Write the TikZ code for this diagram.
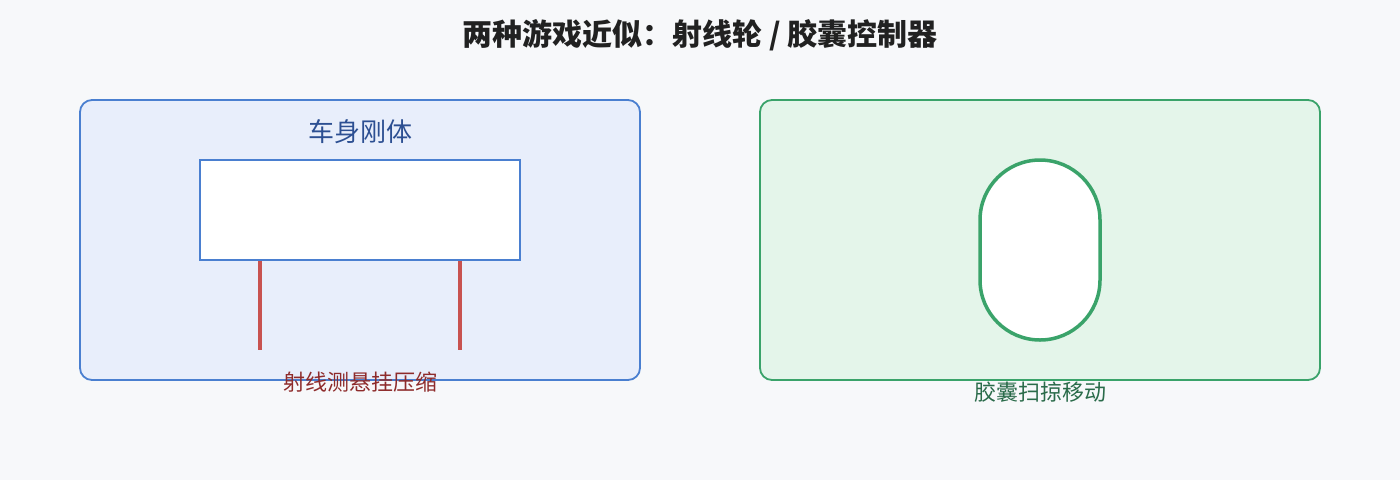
\documentclass[tikz,border=0pt]{standalone}
\usepackage{fontspec}
\setmainfont{Noto Sans CJK SC}
\usepackage{tikz}
\usetikzlibrary{positioning,calc}
\definecolor{bgcol}{HTML}{F7F8FA}
\definecolor{bodyline}{HTML}{4A7FD0}
\definecolor{bodyfill}{HTML}{E8EEFB}
\definecolor{bodytext}{HTML}{2C4F92}
\definecolor{raycol}{HTML}{C85250}
\definecolor{raytext}{HTML}{8E2B2B}
\definecolor{capline}{HTML}{3AA36A}
\definecolor{capfill}{HTML}{E4F5EA}
\definecolor{captext}{HTML}{2A6B4A}
\tikzstyle{panel} = [rectangle, rounded corners=12pt, minimum width=560pt, minimum height=280pt, line width=1.8pt]
\tikzstyle{chassis} = [rectangle, minimum width=320pt, minimum height=100pt, draw=bodyline, fill=white, line width=1.8pt]
\tikzstyle{capsule} = [rectangle, rounded corners=60pt, minimum width=120pt, minimum height=180pt, draw=capline, fill=white, line width=3.5pt]
\tikzstyle{ray} = [raycol, line width=3.5pt]
\tikzstyle{label} = [inner sep=0pt, font=\fontsize{22}{26}\selectfont]

\begin{document}
\begin{tikzpicture}[x=1pt,y=-1pt]
		\fill[bgcol] (0,0) rectangle (1400,480);
		\useasboundingbox (0,0) rectangle (1400,480);
		\node[inner sep=0pt, text=black!87, font=\fontsize{30}{34}\selectfont\bfseries] (title) at (700,35) {两种游戏近似：射线轮 / 胶囊控制器};
		
		% ray wheels
		\node[panel, draw=bodyline, fill=bodyfill] (raypanel) at (360,240) {};
		\node[label, text=bodytext, font=\fontsize{26}{30}\selectfont] (bodylabel) at (360,132) {车身刚体};
		\node[chassis] (body) at (360,210) {};
		\coordinate (rayL) at (260,350);
		\coordinate (rayR) at (460,350);
		\draw[ray] (rayL |- body.south) -- (rayL);
		\draw[ray] (rayR |- body.south) -- (rayR);
		\node[label, text=raytext] (raylabel) at (360,382) {射线测悬挂压缩};
		
		% capsule controller
		\node[panel, draw=capline, fill=capfill] (cappanel) at (1040,240) {};
		\node[capsule] (capsule) at (1040,250) {};
		\node[label, text=captext] (caplabel) at (1040,392) {胶囊扫掠移动};
		\end{tikzpicture}
\end{document}
